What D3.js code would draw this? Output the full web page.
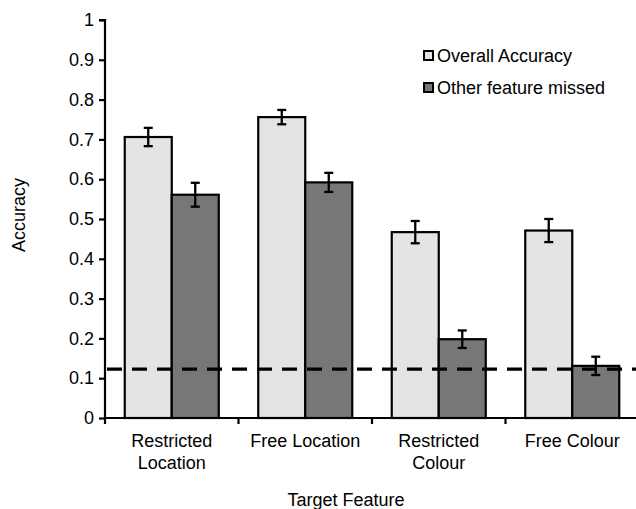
<!DOCTYPE html>
<html>
<head>
<meta charset="utf-8">
<script src="https://cdn.jsdelivr.net/npm/d3@7"></script>
<style>
  html, body { margin: 0; padding: 0; background: #fff; }
  svg { display: block; font-family: "Liberation Sans", Arial, sans-serif; }
</style>
</head>
<body>
<svg id="chart" width="636" height="509"></svg>
<script>
// Accuracy by target feature, with standard-error bars and a chance line
const categories = [["Restricted", "Location"], ["Free Location"], ["Restricted", "Colour"], ["Free Colour"]];
const seriesNames = ["Overall Accuracy", "Other feature missed"];
const overallAccuracy = [0.706, 0.756, 0.467, 0.471];
const overallError = [0.023, 0.018, 0.028, 0.029];
const otherMissed = [0.561, 0.592, 0.198, 0.131];
const otherError = [0.030, 0.024, 0.022, 0.023];
const chanceLevel = 0.123;
const yTicks = [0, 0.1, 0.2, 0.3, 0.4, 0.5, 0.6, 0.7, 0.8, 0.9, 1];
const yTickLabels = ["0", "0.1", "0.2", "0.3", "0.4", "0.5", "0.6", "0.7", "0.8", "0.9", "1"];
const colors = ["#e4e4e4", "#777777"];
const textColor = "#000";

const svg = d3.select("#chart");
const plotLeft = 105, plotRight = 639, plotTop = 20, plotBottom = 418;

const catKeys = categories.map(c => c.join(" "));
const x0 = d3.scaleBand().domain(catKeys).range([plotLeft, plotRight]).padding(0);
const x1 = d3.scaleBand().domain(seriesNames).range([0, x0.bandwidth()])
  .paddingInner(0).paddingOuter(0.42);
const y = d3.scaleLinear().domain([0, 1]).range([plotBottom, plotTop]);

const rows = catKeys.map((k, i) => ({
  key: k,
  values: [
    { s: seriesNames[0], v: overallAccuracy[i], e: overallError[i] },
    { s: seriesNames[1], v: otherMissed[i], e: otherError[i] }
  ]
}));

// bars
const groups = svg.append("g").selectAll("g").data(rows).join("g")
  .attr("transform", d => `translate(${x0(d.key)},0)`);

groups.selectAll("rect").data(d => d.values).join("rect")
  .attr("x", d => x1(d.s))
  .attr("y", d => y(d.v))
  .attr("width", x1.bandwidth())
  .attr("height", d => y(0) - y(d.v))
  .attr("fill", (d, i) => colors[i])
  .attr("stroke", "#000")
  .attr("stroke-width", 2.2);

// error bars
const eb = groups.selectAll("g.err").data(d => d.values).join("g").attr("class", "err")
  .attr("stroke", "#000").attr("stroke-width", 2.3);
eb.append("line")
  .attr("x1", d => x1(d.s) + x1.bandwidth() / 2)
  .attr("x2", d => x1(d.s) + x1.bandwidth() / 2)
  .attr("y1", d => y(d.v + d.e)).attr("y2", d => y(d.v - d.e));
[1, -1].forEach(sg => {
  eb.append("line")
    .attr("x1", d => x1(d.s) + x1.bandwidth() / 2 - 4.5)
    .attr("x2", d => x1(d.s) + x1.bandwidth() / 2 + 4.5)
    .attr("y1", d => y(d.v + sg * d.e)).attr("y2", d => y(d.v + sg * d.e));
});

// chance line
svg.append("line")
  .attr("x1", plotLeft + 2).attr("x2", 636)
  .attr("y1", y(chanceLevel)).attr("y2", y(chanceLevel))
  .attr("stroke", "#000").attr("stroke-width", 3.2)
  .attr("stroke-dasharray", "15,10");

// y axis
const yAxis = d3.axisLeft(y).tickValues(yTicks)
  .tickFormat((d, i) => yTickLabels[i]).tickSize(6).tickPadding(5);
const gy = svg.append("g").attr("transform", `translate(${plotLeft},0)`).call(yAxis);
gy.select(".domain").attr("stroke-width", 2.2).attr("d", `M-6,${plotTop}H0V${plotBottom}`);
gy.selectAll(".tick line").attr("stroke-width", 2.2);
gy.selectAll(".tick text").attr("font-size", 18).attr("fill", textColor)
  .attr("font-family", "Liberation Sans, Arial, sans-serif");

// x axis: ticks at category boundaries
const boundaries = catKeys.map(k => x0(k)).concat([plotRight]);
const gx = svg.append("g");
gx.append("line").attr("x1", plotLeft - 1).attr("x2", 636)
  .attr("y1", plotBottom).attr("y2", plotBottom)
  .attr("stroke", "#000").attr("stroke-width", 2.2);
gx.selectAll("line.tk").data(boundaries).join("line").attr("class", "tk")
  .attr("x1", d => d).attr("x2", d => d)
  .attr("y1", plotBottom).attr("y2", plotBottom + 6)
  .attr("stroke", "#000").attr("stroke-width", 2.2);

// category labels
const lab = svg.append("g").selectAll("text").data(categories).join("text")
  .attr("x", (d, i) => x0(catKeys[i]) + x0.bandwidth() / 2)
  .attr("y", 447)
  .attr("text-anchor", "middle")
  .attr("font-size", 18).attr("fill", textColor);
lab.selectAll("tspan").data(d => d).join("tspan")
  .attr("x", function () { return d3.select(this.parentNode).attr("x"); })
  .attr("dy", (d, i) => i === 0 ? 0 : 21.5)
  .text(d => d);

// axis titles
svg.append("text").attr("x", 346).attr("y", 506).attr("text-anchor", "middle")
  .attr("font-size", 18).attr("fill", textColor).text("Target Feature");
svg.append("text").attr("transform", "translate(25,215) rotate(-90)")
  .attr("text-anchor", "middle").attr("font-size", 18).attr("fill", textColor).text("Accuracy");

// legend
const legend = svg.append("g").selectAll("g").data(seriesNames).join("g")
  .attr("transform", (d, i) => `translate(424,${51 + i * 32})`);
legend.append("rect").attr("width", 9).attr("height", 9)
  .attr("fill", (d, i) => colors[i]).attr("stroke", "#000").attr("stroke-width", 2);
legend.append("text").attr("x", 13).attr("y", 10.5)
  .attr("font-size", 18).attr("fill", textColor).text(d => d);
</script>
</body>
</html>
